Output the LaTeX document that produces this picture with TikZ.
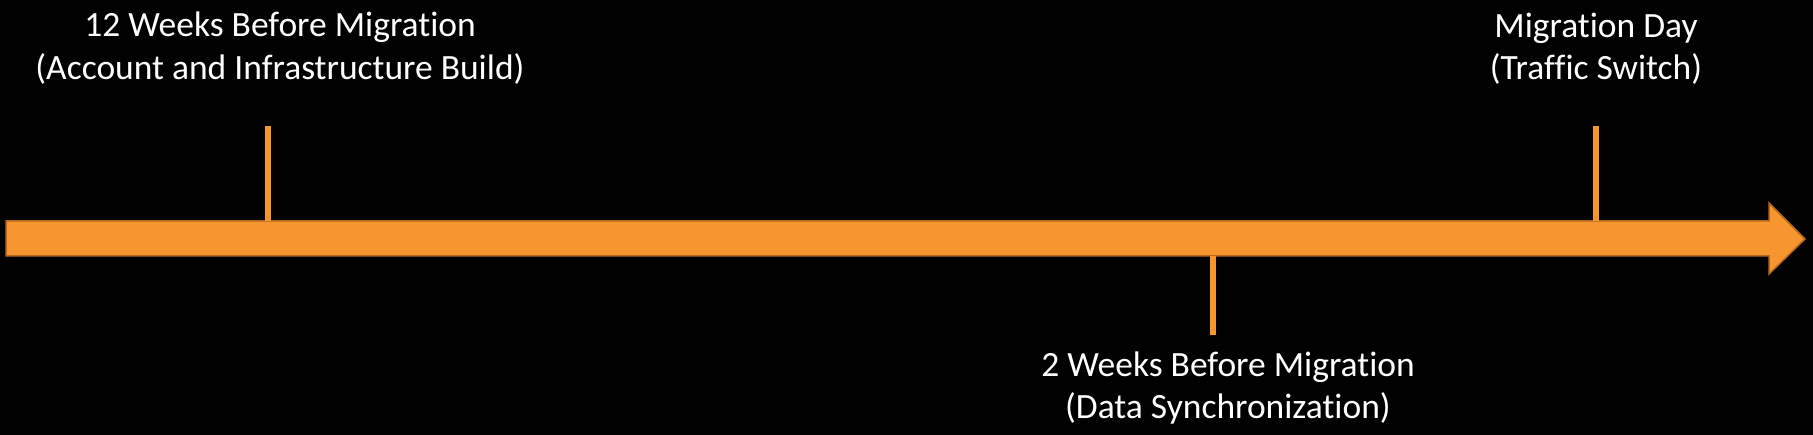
\documentclass[tikz,border=0pt]{standalone}
\usepackage{fontspec}
\setmainfont{Carlito}[Ligatures=NoCommon]
\definecolor{barorange}{HTML}{F7962F}
\definecolor{baredge}{HTML}{B6661E}
\tikzset{
  milestone/.style={white, align=center, inner sep=0pt, anchor=base,
    font=\fontsize{35.5}{42.5}\selectfont},
  tick/.style={barorange, line width=6pt}
}
\begin{document}
\begin{tikzpicture}[x=1pt,y=-1pt]
\useasboundingbox (0,0) rectangle (1813,435);
\fill[black] (0,0) rectangle (1813,435);
% timeline arrow
\draw[baredge, fill=barorange, line width=1.5pt] (6,221) -- (1769,221) -- (1769,203) -- (1805,239) -- (1769,274) -- (1769,256) -- (6,256) -- cycle;
% ticks
\coordinate (t1) at (268,126); \coordinate (b1) at (268,221);
\coordinate (t2) at (1213,256); \coordinate (b2) at (1213,335);
\coordinate (t3) at (1596,126); \coordinate (b3) at (1596,221);
\draw[tick] (t1) -- (b1);
\draw[tick] (t2) -- (b2);
\draw[tick] (t3) -- (b3);
% labels (base = last line)
\node[milestone] (build) at (280,79.5) {12 Weeks Before Migration\\(Account and Infrastructure Build)};
\node[milestone] (sync) at (1228,419) {2 Weeks Before Migration\\(Data Synchronization)};
\node[milestone] (switch) at (1596,80) {Migration Day\\(Traffic Switch)};
\end{tikzpicture}
\end{document}
